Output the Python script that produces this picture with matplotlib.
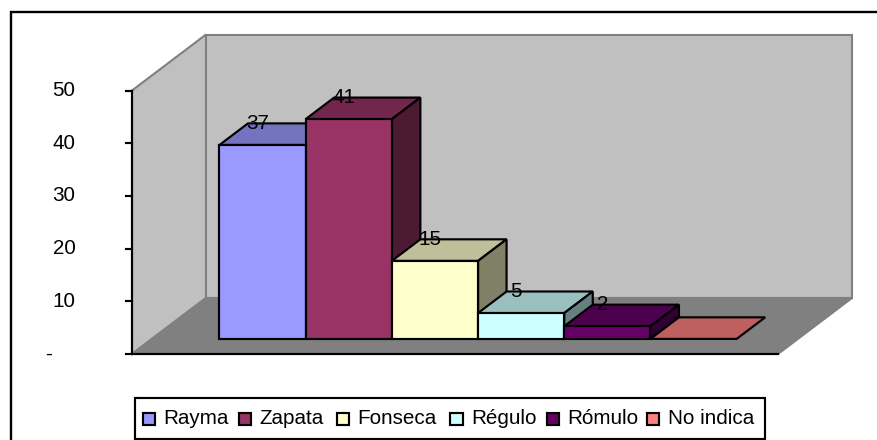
#!/usr/bin/env python3
"""Pseudo-3D column chart drawn with an oblique projection."""

import matplotlib
matplotlib.use("Agg")
import matplotlib.pyplot as plt
from matplotlib.colors import to_rgb
from matplotlib.patches import Polygon, Rectangle

plt.rcParams['font.family'] = ['Liberation Sans', 'DejaVu Sans']

names = ["Rayma", "Zapata", "Fonseca", "Régulo", "Rómulo", "No indica"]
labels = ["37", "41", "15", "5", "2", "-"]
heights = [36.8, 41.7, 14.8, 4.9, 2.4, 0]  # as drawn in the picture
colors = ['#9999FF', '#993366', '#FFFFCC', '#CCFFFF', '#660066', '#FF8080']
yticks = [0, 10, 20, 30, 40, 50]
yticklabels = ["-", "10", "20", "30", "40", "50"]

W, H = 877, 440
X0, Y0 = 132, 354      # front-left corner of the floor, pixels
PX_CAT = 86.2          # pixels per bar
PX_VAL = 5.27          # pixels per unit
N_CAT = 7.494          # width of the floor in bars
DX, DY = 74, 56        # depth of the box, pixels
BAR_X = 0.783
D_FRONT, D_BACK = 0.27, 0.655
LW = 1.55
FS = 14.9


def shade(color, k):
    return tuple(c * k for c in to_rgb(color))


def proj(x, y, d=0.0):
    """Oblique projection: depth d (0..1) shifts up and to the right."""
    return (x + d * DX / PX_CAT, y + d * DY / PX_VAL)


def face(ax, pts, fc, ec='black', lw=LW, z=2):
    ax.add_patch(Polygon([proj(*p) for p in pts], closed=True, fc=fc, ec=ec,
                         lw=lw, joinstyle='miter', zorder=z))


def px(x, y):
    return ((x - X0) / PX_CAT, (Y0 - y) / PX_VAL)


fig = plt.figure(figsize=(W / 100, H / 100), dpi=100)
ax = fig.add_axes([0, 0, 1, 1])
ax.set_xlim(-X0 / PX_CAT, (W - X0) / PX_CAT)
ax.set_ylim(-(H - Y0) / PX_VAL, Y0 / PX_VAL)
ax.axis('off')

# chart frame: only its left and top edges are inside the picture
ax.plot(*zip(px(10.5, H), px(10.5, 12), px(W, 12)), color='black', lw=1.7, zorder=0,
        solid_joinstyle='miter')

# walls and floor
top = yticks[-1]
face(ax, [(0, 0, 0), (0, 0, 1), (0, top, 1), (0, top, 0)], '#C0C0C0', '#808080', 1.5, 1)
face(ax, [(0, 0, 1), (N_CAT, 0, 1), (N_CAT, top, 1), (0, top, 1)], '#C0C0C0', '#808080', 1.5, 1)
face(ax, [(0, 0, 0), (N_CAT, 0, 0), (N_CAT, 0, 1), (0, 0, 1)], '#808080', '#808080', 1.5, 1)

# front edge of the floor and value axis
ax.plot(*zip(proj(0, 0), proj(N_CAT, 0)), color='black', lw=LW, zorder=3)
ax.plot([0, 0], [0, top], color='black', lw=LW, zorder=3)
for t, s in zip(yticks, yticklabels):
    ax.plot([-6 / PX_CAT, 0], [t, t], color='black', lw=LW, zorder=3)
    tx = px(48 if s == "-" else 64, 0)[0]
    ax.text(tx, t, s, ha='center', va='center', fontsize=FS, color='black')

# bars, left to right so that each covers its neighbour's side
for i, (h, lab, col) in enumerate(zip(heights, labels, colors)):
    x1, x2 = BAR_X + i, BAR_X + i + 1
    face(ax, [(x1, h, D_FRONT), (x2, h, D_FRONT), (x2, h, D_BACK), (x1, h, D_BACK)],
         shade(col, 0.75))
    if h > 0:
        face(ax, [(x2, 0, D_FRONT), (x2, 0, D_BACK), (x2, h, D_BACK), (x2, h, D_FRONT)],
             shade(col, 0.5))
        face(ax, [(x1, 0, D_FRONT), (x2, 0, D_FRONT), (x2, h, D_FRONT), (x1, h, D_FRONT)], col)
    tx, ty = proj(x1 + (0.11 if h > 0 else -0.05), h, D_BACK)
    ax.text(tx, ty, lab, ha='center', va='center', fontsize=FS, color='black', zorder=5)

# legend box
lx0, lx1, ly0, ly1 = 134.5, 765, 398, 439
ax.add_patch(Rectangle(px(lx0, ly1), (lx1 - lx0) / PX_CAT, (ly1 - ly0) / PX_VAL,
                       fc='white', ec='black', lw=LW, zorder=2))
swatches = [142.5, 238.5, 336.5, 450, 546.5, 646.5]
for sx, name, col in zip(swatches, names, colors):
    ax.add_patch(Rectangle(px(sx, 425), 12.5 / PX_CAT, 12.5 / PX_VAL, fc=col, ec='black',
                           lw=LW, zorder=3))
    tx, ty = px(sx + 21, 418)
    ax.text(tx, ty, name, ha='left', va='center', fontsize=FS, color='black', zorder=3)

fig.savefig("out.png", dpi=100)
